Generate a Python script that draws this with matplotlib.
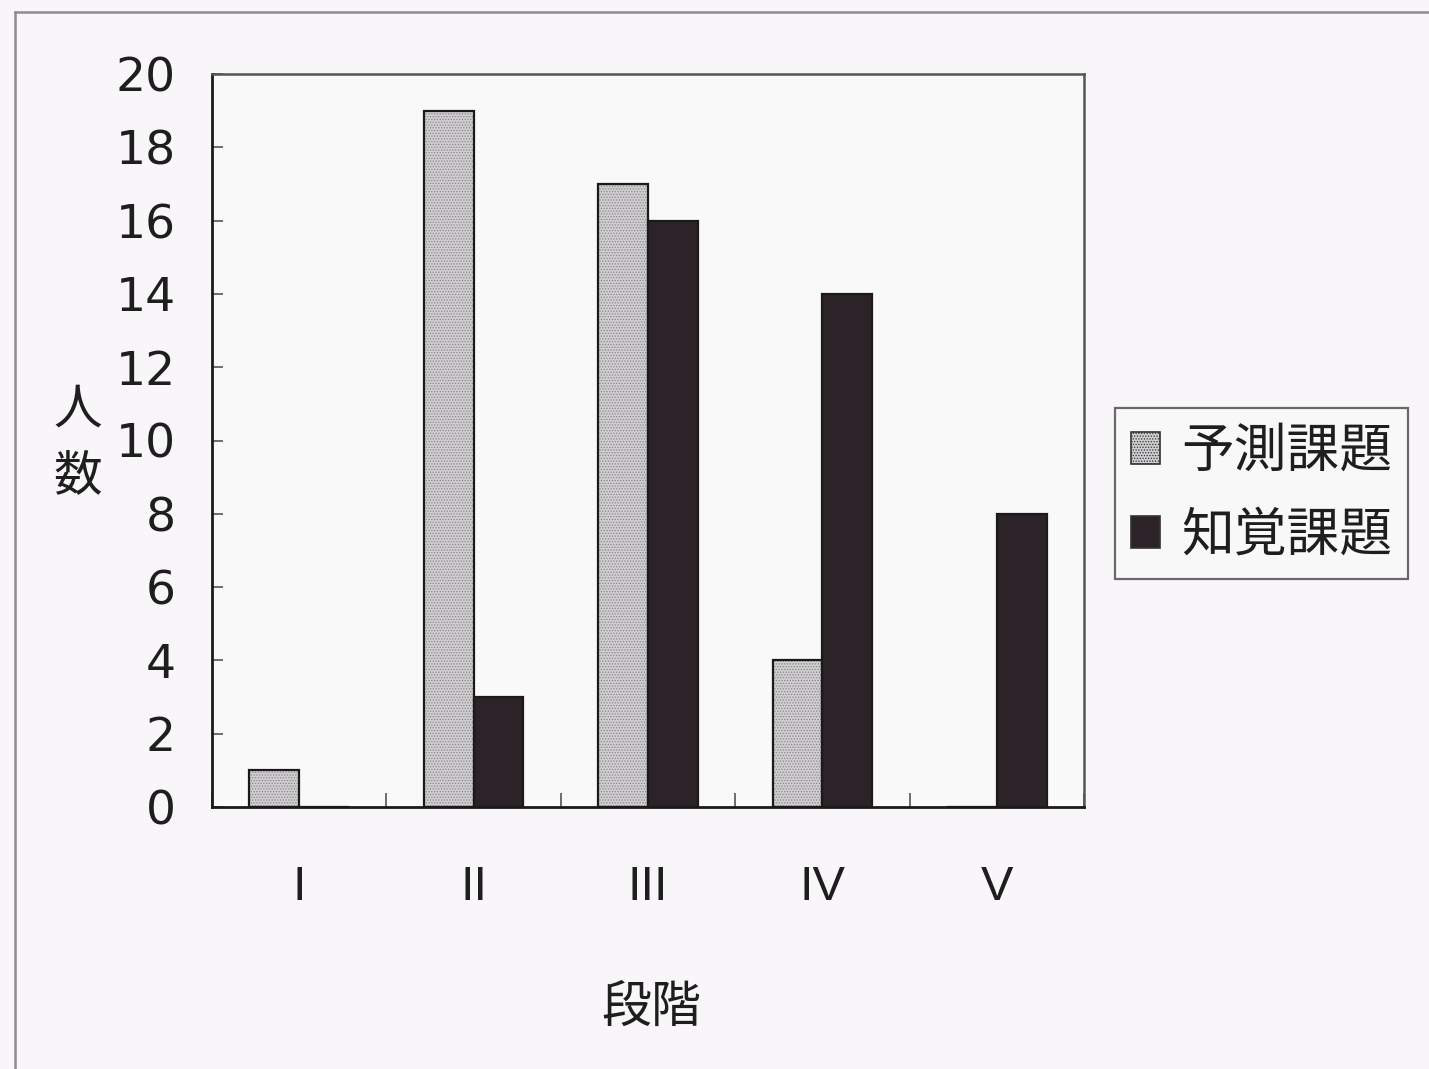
import matplotlib
matplotlib.use("Agg")
import matplotlib.pyplot as plt
import numpy as np
from matplotlib.lines import Line2D

plt.rcParams['font.family'] = ['Noto Sans CJK JP', 'DejaVu Sans']
plt.rcParams['hatch.linewidth'] = 0.6

# Data
stages = ["I", "II", "III", "IV", "V"]
series_names = ["予測課題", "知覚課題"]
yosoku = [1, 19, 17, 4, 0]
chikaku = [0, 3, 16, 14, 8]

bg = "#f8f6f8"
light = "#cfcdd0"
dark = "#2b2327"
ink = "#1e1e1e"

fig = plt.figure(figsize=(14.29, 10.69), dpi=100, facecolor=bg)
ax = fig.add_axes([212/1429, 1 - 807/1069, (1084 - 212)/1429, (807 - 74)/1069])
ax.set_facecolor("#faf9fa")

x = np.arange(len(stages))
w = 1 / 3.5
b1 = ax.bar(x - w/2, yosoku, width=w, color=light, edgecolor="#1a1a1a",
            linewidth=1.6, hatch="......", label=series_names[0])
b2 = ax.bar(x + w/2, chikaku, width=w, color=dark, edgecolor="#1a1a1a",
            linewidth=1.6, label=series_names[1])
# hatch colour for the stippled bars
for p in b1:
    p._hatch_color = matplotlib.colors.to_rgba("#8a888a")

ax.set_xlim(-0.5, 4.5)
ax.set_ylim(0, 20)
ax.set_yticks(range(0, 21, 2))
ax.tick_params(axis="y", direction="in", length=8, width=1.2, pad=26, colors="#555555")
for lab in ax.get_yticklabels():
    lab.set_fontfamily("DejaVu Sans")
    lab.set_fontsize(34)
    lab.set_color(ink)

# category labels sit in the middle of each group; tick marks on the boundaries
ax.set_xticks(np.arange(-0.5, 5.0, 1.0))
ax.set_xticklabels([])
ax.tick_params(axis="x", direction="in", length=10, width=1.2, colors="#555555")
ax.set_xticks(x, minor=True)
ax.set_xticklabels(stages, minor=True, fontsize=35, family=["Liberation Sans", "DejaVu Sans"])
ax.tick_params(axis="x", which="minor", length=0, pad=42, labelcolor=ink)

for s in ["left", "bottom"]:
    ax.spines[s].set_color("#1a1a1a")
    ax.spines[s].set_linewidth(2.0)
for s in ["top", "right"]:
    ax.spines[s].set_color("#555555")
    ax.spines[s].set_linewidth(1.8)

# axis titles
fig.text(78/1429, 1 - 410/1069, "人", fontsize=35, ha="center", va="center", color=ink)
fig.text(78/1429, 1 - 476/1069, "数", fontsize=35, ha="center", va="center", color=ink)
fig.text(651/1429, 1 - 1008/1069, "段階", fontsize=36, ha="center", va="center", color=ink)

# legend
handles = [
    plt.Rectangle((0, 0), 1, 1, facecolor=light, edgecolor="#333333", hatch="......", linewidth=1.2),
    plt.Rectangle((0, 0), 1, 1, facecolor=dark, edgecolor="#333333", linewidth=1.2),
]
leg = fig.legend(handles, series_names, loc="upper left",
                 bbox_to_anchor=(1115/1429, 1 - 408/1069), borderaxespad=0,
                 fontsize=38, frameon=True, fancybox=False, handlelength=0.55,
                 handleheight=0.55, handletextpad=0.4, borderpad=0.3,
                 labelspacing=0.55)
leg.get_frame().set_edgecolor("#444444")
leg.get_frame().set_linewidth(1.6)
leg.get_frame().set_facecolor("#faf9fa")
for t in leg.get_texts():
    t.set_color(ink)

# outer frame
fig.add_artist(Line2D([15/1429, 15/1429], [0, 1 - 12/1069], transform=fig.transFigure,
                      color="#8e8c8e", linewidth=1.8))
fig.add_artist(Line2D([15/1429, 1], [1 - 12/1069, 1 - 12/1069], transform=fig.transFigure,
                      color="#8e8c8e", linewidth=1.8))

fig.savefig("out.png", dpi=100, facecolor=bg)
